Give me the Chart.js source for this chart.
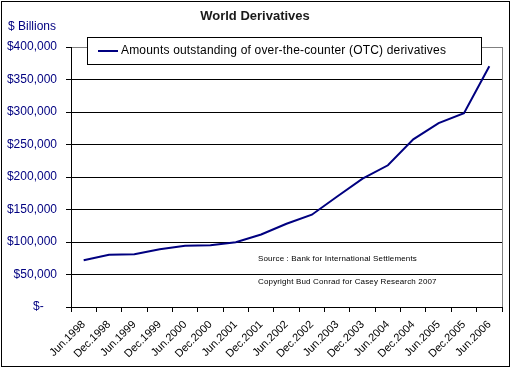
<!DOCTYPE html>
<html>
<head>
<meta charset="utf-8">
<title>World Derivatives</title>
<script src="https://cdn.jsdelivr.net/npm/chart.js@4.4.0/dist/chart.umd.min.js"></script>
<style>
    html, body { margin: 0; padding: 0; background: #fff; }
    #wrap { position: relative; width: 511px; height: 368px; }
</style>
</head>
<body>
<div id="wrap"><canvas id="chart" width="511" height="368"></canvas></div>
<script>
/* World Derivatives - OTC amounts outstanding, line chart */

const categories = [
    "Jun.1998", "Dec.1998", "Jun.1999", "Dec.1999", "Jun.2000", "Dec.2000",
    "Jun.2001", "Dec.2001", "Jun.2002", "Dec.2002", "Jun.2003", "Dec.2003",
    "Jun.2004", "Dec.2004", "Jun.2005", "Dec.2005", "Jun.2006"
];
const otcValues = [
    72000, 80300, 81000, 89000, 94200, 95000,
    99500, 111500, 128000, 142000, 170000, 197500,
    218000, 258000, 283000, 298000, 370500
];
const seriesLabel = "Amounts outstanding of over-the-counter (OTC) derivatives";
const yMin = 0;
const yMax = 400000;
const yStep = 50000;
const chartTitle = "World Derivatives";
const unitLabel = "$ Billions";
const notes = [
    "Source : Bank for International Settlements",
    "Copyright Bud Conrad for Casey Research 2007"
];

const NAVY = "#000080";
const FONT = "'Liberation Sans', Arial, sans-serif";

function money(v) {
    // accounting style: zero shows as a dash, padded like Excel does
    if (v === 0) return "$-    ";
    return "$" + v.toLocaleString("en-US");
}

// extra drawing: frame, title, unit label, legend box, source notes
const decorations = {
    id: "decorations",
    beforeDatasetsDraw(chart) {
        const { ctx, chartArea } = chart;
        ctx.save();
        ctx.strokeStyle = "#808080";
        ctx.lineWidth = 1;
        ctx.beginPath();
        ctx.moveTo(chartArea.right + 0.5, chartArea.top);
        ctx.lineTo(chartArea.right + 0.5, chartArea.bottom);
        ctx.stroke();
        ctx.restore();
    },
    afterDraw(chart) {
        const { ctx, width, height } = chart;
        ctx.save();

        // outer frame
        ctx.strokeStyle = "#000";
        ctx.lineWidth = 1;
        ctx.strokeRect(1.5, 1.5, width - 3, height - 3);

        // title
        ctx.fillStyle = "#1a1a1a";
        ctx.font = "bold 13px " + FONT;
        ctx.textAlign = "center";
        ctx.textBaseline = "middle";
        ctx.fillText(chartTitle, 255, 16);

        // unit label
        ctx.fillStyle = NAVY;
        ctx.font = "12px " + FONT;
        ctx.textAlign = "left";
        ctx.fillText(unitLabel, 8, 27);

        // legend box
        const lx = 87, ly = 37, lw = 394, lh = 27;
        ctx.fillStyle = "#fff";
        ctx.fillRect(lx, ly, lw, lh);
        ctx.strokeStyle = "#000";
        ctx.strokeRect(lx + 0.5, ly + 0.5, lw, lh);
        const ds = chart.data.datasets[0];
        ctx.strokeStyle = ds.borderColor;
        ctx.lineWidth = 2;
        ctx.beginPath();
        ctx.moveTo(98, ly + 14);
        ctx.lineTo(118, ly + 14);
        ctx.stroke();
        ctx.fillStyle = "#000";
        ctx.font = "12px " + FONT;
        ctx.letterSpacing = "0.18px";
        ctx.textAlign = "left";
        ctx.textBaseline = "middle";
        ctx.fillText(ds.label, 121, ly + 14);

        // source notes
        ctx.font = "8px " + FONT;
        ctx.letterSpacing = "0.15px";
        ctx.fillStyle = "#000";
        ctx.fillText(notes[0], 258, 259);
        ctx.fillText(notes[1], 258, 282);

        ctx.restore();
    }
};

const ctx = document.getElementById("chart");
new Chart(ctx, {
    type: "line",
    data: {
        labels: categories,
        datasets: [{
            label: seriesLabel,
            data: otcValues,
            borderColor: NAVY,
            backgroundColor: NAVY,
            borderWidth: 2,
            pointRadius: 0,
            tension: 0,
            fill: false
        }]
    },
    options: {
        responsive: false,
        animation: false,
        layout: { padding: { top: 47, right: 9, bottom: 0, left: 0 } },
        plugins: {
            legend: { display: false },
            title: { display: false },
            tooltip: { enabled: false }
        },
        scales: {
            x: {
                type: "category",
                offset: true,
                afterFit: s => { s.height = 61; },
                grid: {
                    offset: true,
                    drawOnChartArea: false,
                    color: "#000",
                    tickLength: 5
                },
                border: { color: "#000", width: 1 },
                ticks: {
                    autoSkip: false,
                    minRotation: 45,
                    maxRotation: 45,
                    padding: 6,
                    color: "#000",
                    font: { family: FONT, size: 11 }
                }
            },
            y: {
                min: yMin,
                max: yMax,
                afterFit: s => { s.width = 71; },
                grid: {
                    color: c => (c.tick && c.tick.value === yMax ? "#808080" : "#000"),
                    tickColor: "#000",
                    tickLength: 5
                },
                border: { color: "#000", width: 1 },
                ticks: {
                    stepSize: yStep,
                    padding: 9,
                    color: NAVY,
                    font: { family: FONT, size: 12 },
                    callback: v => money(v)
                }
            }
        }
    },
    plugins: [decorations]
});
</script>
</body>
</html>
